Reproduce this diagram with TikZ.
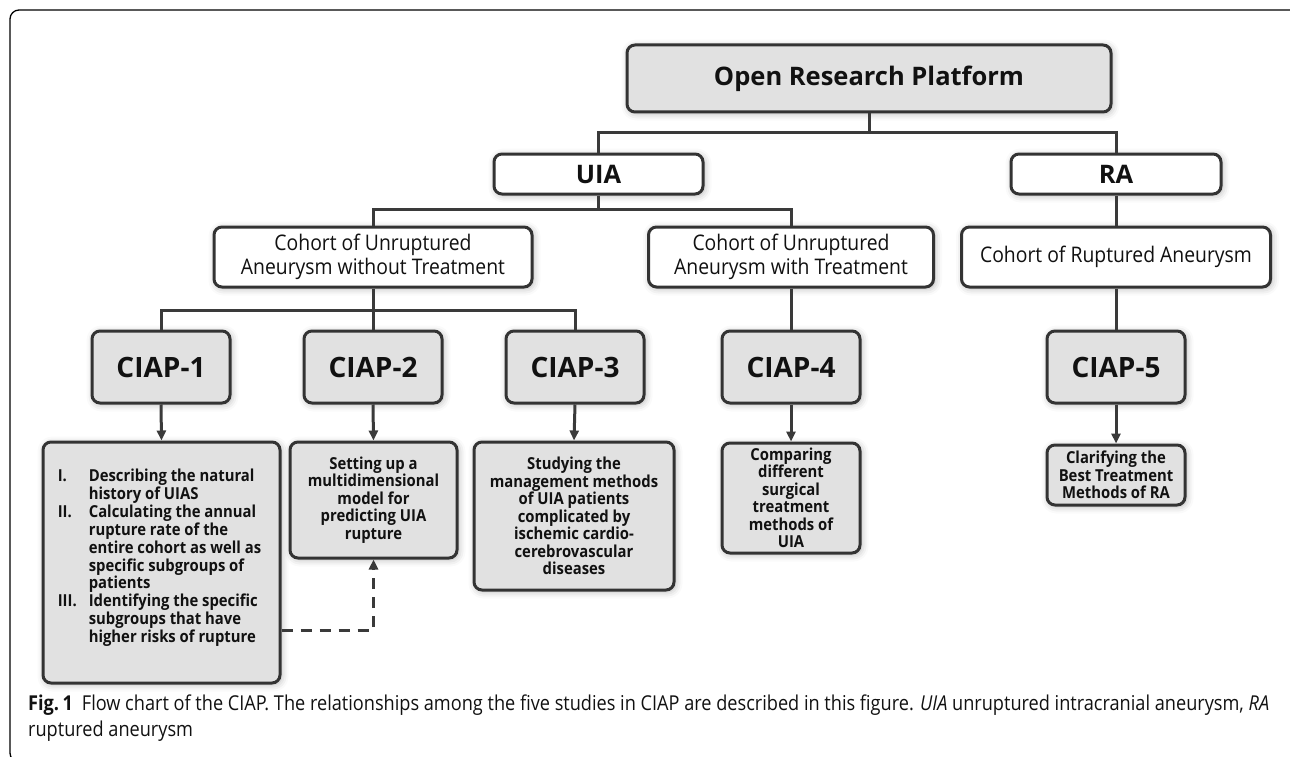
\documentclass[tikz,border=0pt]{standalone}
\usepackage{fontspec}
\setmainfont{Open Sans}
\newfontfamily\narrowfont[FakeStretch=0.9]{Open Sans}
\newfontfamily\notesfont[FakeStretch=0.9]{Open Sans}
\newfontfamily\capfont[FakeStretch=0.885]{Open Sans}
\usetikzlibrary{arrows.meta,shadows.blur}

\definecolor{boxgray}{HTML}{E1E1E1}
\definecolor{edge}{HTML}{333333}
\definecolor{wire}{HTML}{3A3A3A}
\definecolor{ink}{HTML}{111111}

\tikzset{
  box/.style={draw=edge, line width=3pt, rounded corners=8pt, align=center,
    inner sep=0pt, text=ink,
    blur shadow={shadow xshift=1.5pt, shadow yshift=-1.5pt,
      shadow blur radius=7pt, shadow opacity=30}},
  graybox/.style={box, fill=boxgray},
  whitebox/.style={box, fill=white},
  wire/.style={draw=wire, line width=3pt},
  arr/.style={wire, -{Triangle[length=10pt,width=9pt]}},
  dasharr/.style={wire, dash pattern=on 11pt off 8pt,
    -{Triangle[length=10pt,width=9pt]}},
  headfont/.style={font=\bfseries\fontsize{25.5}{30}\selectfont},
  cohortfont/.style={font=\narrowfont\fontsize{21.5}{24}\selectfont},
  studyfont/.style={font=\bfseries\fontsize{28}{33}\selectfont},
  notefont/.style={font=\notesfont\bfseries\fontsize{16.5}{17.5}\selectfont},
}

\begin{document}
\begin{tikzpicture}[x=1pt,y=-1pt]
\useasboundingbox (0,0) rectangle (1290,757);
\clip (0,0) rectangle (1290,757);

% outer panel frame
\draw[line width=1.3pt, rounded corners=9pt] (1295,10) -- (10,10) -- (10,762) -- (40,762);

% top level
\node[graybox, headfont, minimum width=484pt, minimum height=67pt] (orp) at (869,78.5) {Open Research Platform};
\node[whitebox, headfont, minimum width=209pt, minimum height=40pt] (uia) at (598.5,174) {UIA};
\node[whitebox, headfont, minimum width=210pt, minimum height=40pt] (ra) at (1116,174) {RA};

% cohorts
\node[whitebox, cohortfont, minimum width=318pt, minimum height=60pt] (cw) at (373,257) {Cohort of Unruptured\\Aneurysm without Treatment};
\node[whitebox, cohortfont, minimum width=285pt, minimum height=60pt] (ct) at (791,257) {Cohort of Unruptured\\Aneurysm with Treatment};
\node[whitebox, cohortfont, minimum width=309pt, minimum height=60pt] (cr) at (1116,257) {Cohort of Ruptured Aneurysm};

% studies
\node[graybox, studyfont, minimum width=138pt, minimum height=72pt] (c1) at (161,367) {CIAP-1};
\node[graybox, studyfont, minimum width=138pt, minimum height=72pt] (c2) at (373,367) {CIAP-2};
\node[graybox, studyfont, minimum width=138pt, minimum height=72pt] (c3) at (575,367) {CIAP-3};
\node[graybox, studyfont, minimum width=138pt, minimum height=72pt] (c4) at (791,367) {CIAP-4};
\node[graybox, studyfont, minimum width=138pt, minimum height=72pt] (c5) at (1116,367) {CIAP-5};

% study aims
\node[graybox, notefont, minimum width=237pt, minimum height=241pt] (d1) at (161.5,562.5) {%
  \begin{tabular}{@{}p{31pt}@{}l@{}}
  I. & Describing the natural\\
     & history of UIAS\\
  II. & Calculating the annual\\
     & rupture rate of the\\
     & entire cohort as well as\\
     & specific subgroups of\\
     & patients\\
  III. & Identifying the specific\\
     & subgroups that have\\
     & higher risks of rupture\\[8pt]
  \end{tabular}\hspace*{4pt}};
\node[graybox, notefont, minimum width=167pt, minimum height=116pt] (d2) at (373.5,500) {Setting up a\\multidimensional\\model for\\predicting UIA\\rupture};
\node[graybox, notefont, minimum width=200pt, minimum height=148pt] (d3) at (574,516) {Studying the\\management methods\\of UIA patients\\complicated by\\ischemic cardio-\\cerebrovascular\\diseases};
\node[graybox, notefont, minimum width=138pt, minimum height=110pt] (d4) at (791,498) {Comparing\\different\\surgical\\treatment\\methods of\\UIA};
\node[graybox, notefont, minimum width=138pt, minimum height=60pt] (d5) at (1116,475) {Clarifying the\\Best Treatment\\Methods of RA};

% junctions of the tree
\coordinate (j0) at (869,133);
\coordinate (j1) at (598.5,209);
\coordinate (j2) at (373,310);

\draw[wire] (orp.south) -- (j0);
\draw[wire] (uia.north) |- (j0) -| (ra.north);
\draw[wire] (uia.south) -- (j1);
\draw[wire] (cw.north) |- (j1) -| (ct.north);
\draw[wire] (ra.south) -- (cr.north);
\draw[wire] (cw.south) -- (j2);
\draw[wire] (c1.north) |- (j2) -| (c3.north);
\draw[wire] (j2) -- (c2.north);
\draw[wire] (ct.south) -- (c4.north);
\draw[wire] (cr.south) -- (c5.north);

\draw[arr] (c1.south) -- (d1.north);
\draw[arr] (c2.south) -- (d2.north);
\draw[arr] (c3.south) -- (d3.north);
\draw[arr] (c4.south) -- (d4.north);
\draw[arr] (c5.south) -- (d5.north);

\draw[dasharr] (d1.east |- 0,630) -| (d2.south);

% caption
\node[anchor=north west, align=left, inner sep=0pt, text=ink,
  font=\capfont\fontsize{20.5}{26}\selectfont] (cap) at (28,695)
  {{\bfseries Fig.\,1}\hspace{9pt}Flow chart of the CIAP. The relationships among the five studies in CIAP are described in this figure. \emph{UIA} unruptured intracranial aneurysm, \emph{RA}\\ruptured aneurysm};
\end{tikzpicture}
\end{document}
